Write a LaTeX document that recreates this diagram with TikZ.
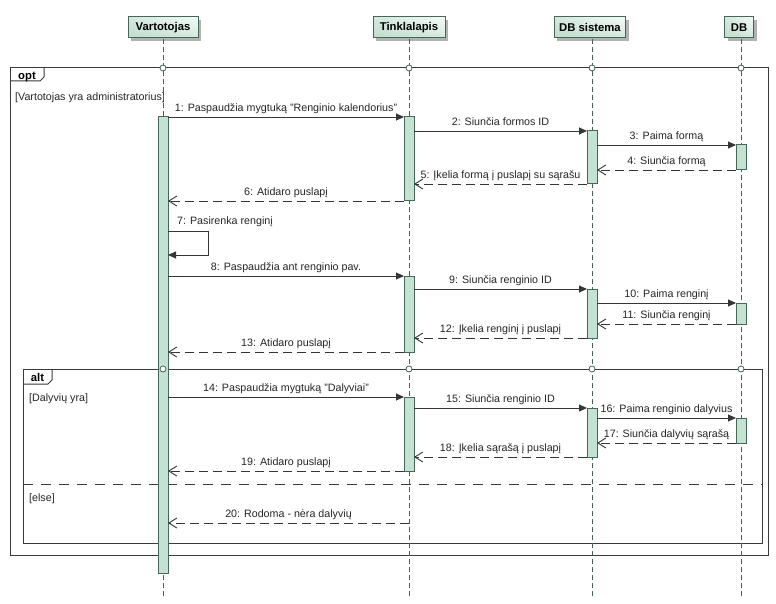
\documentclass[tikz,border=0pt]{standalone}
\usepackage{fontspec}
\setmainfont{Liberation Sans}
\usetikzlibrary{arrows.meta,shadows,shadings}

\definecolor{linec}{HTML}{363636}
\definecolor{framec}{HTML}{3A3A3A}
\definecolor{barfill}{HTML}{C2E2D2}
\definecolor{barline}{HTML}{46665A}
\definecolor{lifec}{HTML}{44605A}
\definecolor{boxL}{HTML}{BEDCCC}
\definecolor{boxR}{HTML}{F4FAF7}

\tikzset{
  part/.style={draw=barline, line width=1pt, lower left=boxL, upper right=boxR,
    lower right=boxL!60!boxR, upper left=boxL!60!boxR,
    font=\bfseries\fontsize{11.3}{13}\selectfont, minimum height=21pt, inner xsep=5pt,
    inner ysep=0pt, drop shadow={shadow xshift=3pt, shadow yshift=-3pt, fill=black!30, opacity=1}},
  actbar/.style={draw=barline, line width=1pt, fill=barfill, minimum width=10pt,
    inner sep=0pt, outer sep=0pt, anchor=north},
  life/.style={draw=lifec, line width=0.9pt, dash pattern=on 5pt off 3pt},
  frame/.style={draw=framec, line width=1pt},
  divider/.style={draw=framec, line width=0.9pt, dash pattern=on 10pt off 8pt},
  circ/.style={circle, draw=lifec, fill=white, line width=0.8pt, inner sep=0pt, minimum size=6pt},
  sync/.style={draw=linec, line width=0.9pt, -{Triangle[length=8pt,width=7pt]}},
  ret/.style={draw=linec, line width=0.9pt, dash pattern=on 9pt off 5pt,
    -{Straight Barb[length=8pt,width=10pt,line width=0.9pt]}},
  lbl/.style={font=\fontsize{10.7}{13}\selectfont, text=black!85, anchor=base,
    inner sep=0pt, midway, yshift=5.5pt},
  plain/.style={font=\fontsize{10.7}{13}\selectfont, text=black!85, inner sep=0pt},
  tabt/.style={font=\bfseries\fontsize{11.3}{13}\selectfont, inner sep=0pt, anchor=base}
}

\begin{document}
\begin{tikzpicture}[x=1pt,y=-1pt]
\useasboundingbox[fill=white] (0,0) rectangle (776,604);

% frames
\draw[frame] (10,68) rectangle (768,555);
\draw[frame] (10,81) -- (40,81) -- (44,77) -- (44,68);
\node[tabt] (optt) at (27,80) {opt};
\node[plain, anchor=base west] (g1) at (15,101) {[Vartotojas yra administratorius]};

\draw[frame] (23,369) rectangle (762,543);
\draw[frame] (23,384) -- (48,384) -- (52,380) -- (52,369);
\node[tabt] (altt) at (37.5,381.5) {alt};
\node[plain, anchor=base west] (g2) at (29,401) {[Dalyvių yra]};
\draw[divider] (23,484) -- (762,484);
\node[plain, anchor=base west] (g3) at (29,501) {[else]};

% participants
\node[part, minimum width=70pt] (pV) at (163,27.5) {Vartotojas};
\node[part, minimum width=72pt] (pT) at (409,27.5) {Tinklalapis};
\node[part, minimum width=66pt] (pS) at (590,27.5) {DB sistema};
\node[part, minimum width=29pt] (pD) at (739,27.5) {DB};

% lifelines
\draw[life] (163,39) -- (163,596);
\draw[life] (409,39) -- (409,596);
\draw[life] (592,39) -- (592,596);
\draw[life] (741,39) -- (741,596);

% frame circles
\foreach \x/\n in {163/a,409/b,592/c,741/d}{
  \node[circ] (co\n) at (\x,68) {};
}

% activation bars
\node[actbar, minimum height=456pt] (bV) at (163,117) {};
\node[actbar, minimum height=84pt] (bT1) at (409,117) {};
\node[actbar, minimum height=76pt] (bT2) at (409,276) {};
\node[actbar, minimum height=74pt] (bT3) at (409,397) {};
\node[actbar, minimum height=53pt] (bS1) at (592,131) {};
\node[actbar, minimum height=49pt] (bS2) at (592,289) {};
\node[actbar, minimum height=49pt] (bS3) at (592,408) {};
\node[actbar, minimum height=25pt] (bD1) at (741,145) {};
\node[actbar, minimum height=21pt] (bD2) at (741,303) {};
\node[actbar, minimum height=25pt] (bD3) at (741,418) {};

\foreach \x/\n in {163/a,409/b,592/c,741/d}{
  \node[circ] (ca\n) at (\x,369) {};
}

% message levels
\foreach \n/\y in {1/117,2/131,3/145,4/170,5/184,6/201,7/231,7b/255,8/276,9/289,10/303,
  11/324,12/338,13/352,14/397,15/408,16/418,17/443,18/457,19/471,20/523}{
  \coordinate (y\n) at (0,\y);
}
\coordinate (loop) at (208,0);
\coordinate (l20) at (409,523);

% messages
\draw[sync] (bV.east |- y1) -- node[lbl]{1: Paspaudžia mygtuką "Renginio kalendorius"} (bT1.west |- y1);
\draw[sync] (bT1.east |- y2) -- node[lbl]{2: Siunčia formos ID} (bS1.west |- y2);
\draw[sync] (bS1.east |- y3) -- node[lbl]{3: Paima formą} (bD1.west |- y3);
\draw[ret] (bD1.west |- y4) -- node[lbl]{4: Siunčia formą} (bS1.east |- y4);
\draw[ret] (bS1.west |- y5) -- node[lbl]{5: Įkelia formą į puslapį su sąrašu} (bT1.east |- y5);
\draw[ret] (bT1.west |- y6) -- node[lbl]{6: Atidaro puslapį} (bV.east |- y6);

\draw[sync] (bV.east |- y7) -- (loop |- y7) -- (loop |- y7b) -- (bV.east |- y7b);
\node[plain, anchor=base west] (t7) at (177,225) {7: Pasirenka renginį};

\draw[sync] (bV.east |- y8) -- node[lbl]{8: Paspaudžia ant renginio pav.} (bT2.west |- y8);
\draw[sync] (bT2.east |- y9) -- node[lbl]{9: Siunčia renginio ID} (bS2.west |- y9);
\draw[sync] (bS2.east |- y10) -- node[lbl]{10: Paima renginį} (bD2.west |- y10);
\draw[ret] (bD2.west |- y11) -- node[lbl]{11: Siunčia renginį} (bS2.east |- y11);
\draw[ret] (bS2.west |- y12) -- node[lbl]{12: Įkelia renginį į puslapį} (bT2.east |- y12);
\draw[ret] (bT2.west |- y13) -- node[lbl]{13: Atidaro puslapį} (bV.east |- y13);

\draw[sync] (bV.east |- y14) -- node[lbl]{14: Paspaudžia mygtuką "Dalyviai"} (bT3.west |- y14);
\draw[sync] (bT3.east |- y15) -- node[lbl]{15: Siunčia renginio ID} (bS3.west |- y15);
\draw[sync] (bS3.east |- y16) -- node[lbl]{16: Paima renginio dalyvius} (bD3.west |- y16);
\draw[ret] (bD3.west |- y17) -- node[lbl]{17: Siunčia dalyvių sąrašą} (bS3.east |- y17);
\draw[ret] (bS3.west |- y18) -- node[lbl]{18: Įkelia sąrašą į puslapį} (bT3.east |- y18);
\draw[ret] (bT3.west |- y19) -- node[lbl]{19: Atidaro puslapį} (bV.east |- y19);
\draw[ret] (l20) -- node[lbl]{20: Rodoma - nėra dalyvių} (bV.east |- y20);

\end{tikzpicture}
\end{document}
